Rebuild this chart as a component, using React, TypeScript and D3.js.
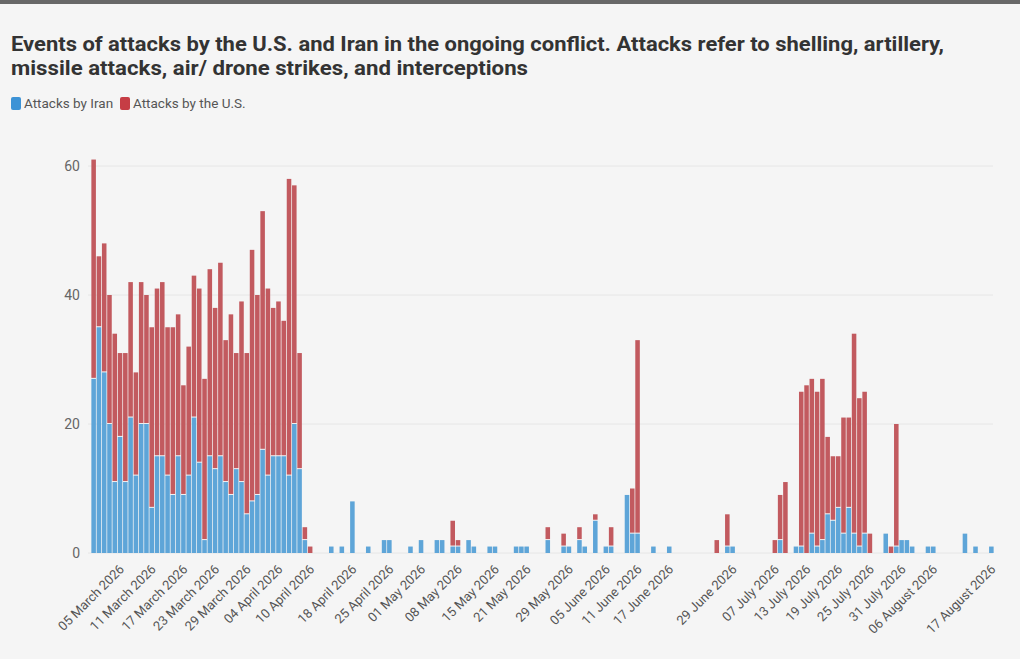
import React from "react";
import * as d3 from "d3";

// daily event counts, only days that had any attack
const dates = [
  "2026-02-28", "2026-03-01", "2026-03-02", "2026-03-03", "2026-03-04", "2026-03-05", "2026-03-06",
  "2026-03-07", "2026-03-08", "2026-03-09", "2026-03-10", "2026-03-11", "2026-03-12", "2026-03-13",
  "2026-03-14", "2026-03-15", "2026-03-16", "2026-03-17", "2026-03-18", "2026-03-19", "2026-03-20",
  "2026-03-21", "2026-03-22", "2026-03-23", "2026-03-24", "2026-03-25", "2026-03-26", "2026-03-27",
  "2026-03-28", "2026-03-29", "2026-03-30", "2026-03-31", "2026-04-01", "2026-04-02", "2026-04-03",
  "2026-04-04", "2026-04-05", "2026-04-06", "2026-04-07", "2026-04-08", "2026-04-09", "2026-04-10",
  "2026-04-14", "2026-04-16", "2026-04-18", "2026-04-21", "2026-04-24", "2026-04-25", "2026-04-29",
  "2026-05-01", "2026-05-04", "2026-05-05", "2026-05-07", "2026-05-08", "2026-05-10", "2026-05-11",
  "2026-05-14", "2026-05-15", "2026-05-19", "2026-05-20", "2026-05-21", "2026-05-25", "2026-05-28",
  "2026-05-29", "2026-05-31", "2026-06-01", "2026-06-03", "2026-06-05", "2026-06-06", "2026-06-09",
  "2026-06-10", "2026-06-11", "2026-06-14", "2026-06-17", "2026-06-26", "2026-06-28", "2026-06-29",
  "2026-07-07", "2026-07-08", "2026-07-09", "2026-07-11", "2026-07-12", "2026-07-13", "2026-07-14",
  "2026-07-15", "2026-07-16", "2026-07-17", "2026-07-18", "2026-07-19", "2026-07-20", "2026-07-21",
  "2026-07-22", "2026-07-23", "2026-07-24", "2026-07-25", "2026-07-28", "2026-07-29", "2026-07-30",
  "2026-07-31", "2026-08-01", "2026-08-02", "2026-08-05", "2026-08-06", "2026-08-12", "2026-08-14",
  "2026-08-17",
];

const iranAttacks = [
  27, 35, 28, 20, 11, 18, 11, 21, 12, 20, 20, 7, 15, 15, 12, 9, 15, 9, 12, 21, 14,
  2, 15, 13, 15, 11, 9, 13, 11, 6, 8, 9, 16, 12, 15, 15, 15, 12, 20, 13, 2, 0,
  1, 1, 8, 1, 2, 2, 1, 2, 2, 2, 1, 1, 2, 1, 1, 1, 1, 1, 1, 2, 1,
  1, 2, 1, 5, 1, 1, 9, 3, 3, 1, 1, 0, 1, 1,
  0, 2, 0, 1, 1, 0, 3, 1, 2, 6, 5, 7, 3, 7, 3, 1, 3, 0, 3, 0, 1,
  2, 2, 1, 1, 1, 3, 1, 1,
];

const usAttacks = [
  34, 11, 20, 20, 23, 13, 20, 21, 16, 22, 20, 28, 26, 27, 23, 26, 22, 17, 20, 22, 27,
  25, 29, 25, 30, 22, 28, 18, 28, 25, 39, 31, 37, 29, 23, 24, 21, 46, 37, 18, 2, 1,
  0, 0, 0, 0, 0, 0, 0, 0, 0, 0, 4, 1, 0, 0, 0, 0, 0, 0, 0, 2, 2,
  0, 2, 0, 1, 0, 3, 0, 7, 30, 0, 0, 2, 5, 0,
  2, 7, 11, 0, 24, 26, 24, 24, 25, 12, 10, 8, 18, 14, 31, 23, 22, 3, 0, 1, 19,
  0, 0, 0, 0, 0, 0, 0, 0,
];

const seriesKeys = ["iran", "us"];
const seriesNames = ["Attacks by Iran", "Attacks by the U.S."];
const barColors = ["#5ea5d8", "#c25a5f"];
const legendColors = ["#3d93d6", "#c63d45"];

const yTicks = [0, 20, 40, 60];

const xTickDates = [
  "2026-03-05", "2026-03-11", "2026-03-17", "2026-03-23", "2026-03-29", "2026-04-04",
  "2026-04-10", "2026-04-18", "2026-04-25", "2026-05-01", "2026-05-08", "2026-05-15",
  "2026-05-21", "2026-05-29", "2026-06-05", "2026-06-11", "2026-06-17", "2026-06-29",
  "2026-07-07", "2026-07-13", "2026-07-19", "2026-07-25", "2026-07-31", "2026-08-06",
  "2026-08-17",
];

const titleLines = [
  "Events of attacks by the U.S. and Iran in the ongoing conflict. Attacks refer to shelling, artillery,",
  "missile attacks, air/ drone strikes, and interceptions",
];

const W = 1020;
const H = 659;
const FONT = "Roboto, 'Noto Sans', sans-serif";

export default function App() {
  const parse = d3.timeParse("%Y-%m-%d");
  const key = d3.timeFormat("%Y-%m-%d");
  const fmt = d3.timeFormat("%d %B %Y");

  const first = parse(dates[0])!;
  const last = parse(dates[dates.length - 1])!;
  const allDays = d3.timeDay.range(first, d3.timeDay.offset(last, 1)).map(key);

  const x = d3
    .scaleBand()
    .domain(allDays)
    .range([91, 994])
    .paddingInner(0.14)
    .paddingOuter(0.07);

  const y = d3.scaleLinear().domain([0, 60]).range([553, 166]);

  const rows = dates.map((d, i) => ({ date: d, iran: iranAttacks[i], us: usAttacks[i] }));
  const stacked = d3.stack<any>().keys(seriesKeys)(rows);

  return (
    <div style={{ position: "absolute", left: 0, top: 0 }}>
      <svg width={W} height={H} style={{ display: "block", fontFamily: FONT }}>
        <rect width={W} height={H} fill="#f5f5f5" />
        <rect width={W} height={4} fill="#686868" />

        {titleLines.map((t, i) => (
          <text
            key={i}
            x={11}
            y={51 + i * 24}
            fontSize={21}
            fontWeight={700}
            fill="#333"
            textLength={i === 0 ? 933 : 517}
            lengthAdjust="spacingAndGlyphs"
          >
            {t}
          </text>
        ))}

        {/* legend */}
        <g>
          {seriesNames.map((name, i) => {
            const lx = i === 0 ? 11 : 120;
            return (
              <g key={name} transform={`translate(${lx},97)`}>
                <rect width={10} height={13} rx={2} fill={legendColors[i]} />
                <text x={13} y={11} fontSize={13.5} fill="#555">
                  {name}
                </text>
              </g>
            );
          })}
        </g>

        {/* grid */}
        {yTicks.map((t) => (
          <g key={t}>
            <line x1={88} x2={993} y1={y(t)} y2={y(t)} stroke="#e6e6e6" strokeWidth={1} />
            <text x={80} y={y(t)} dy="0.35em" textAnchor="end" fontSize={14} fill="#666">
              {t}
            </text>
          </g>
        ))}

        {/* bars */}
        {stacked.map((layer, li) => (
          <g key={layer.key} fill={barColors[li]}>
            {layer.map((seg, i) => {
              const v = seg[1] - seg[0];
              if (v <= 0) return null;
              const gap = seg[0] > 0 ? 1 : 0;
              const top = y(seg[1]);
              const h = y(seg[0]) - top - gap;
              return (
                <rect
                  key={i}
                  x={x(seg.data.date)}
                  y={top}
                  width={x.bandwidth()}
                  height={Math.max(h, 0)}
                />
              );
            })}
          </g>
        ))}

        {/* x labels */}
        {xTickDates.map((d) => {
          const cx = x(d)! + x.bandwidth() / 2 + 5;
          return (
            <text
              key={d}
              transform={`translate(${cx},570) rotate(-45)`}
              textAnchor="end"
              fontSize={13}
              fill="#555"
            >
              {fmt(parse(d)!)}
            </text>
          );
        })}
      </svg>
    </div>
  );
}
